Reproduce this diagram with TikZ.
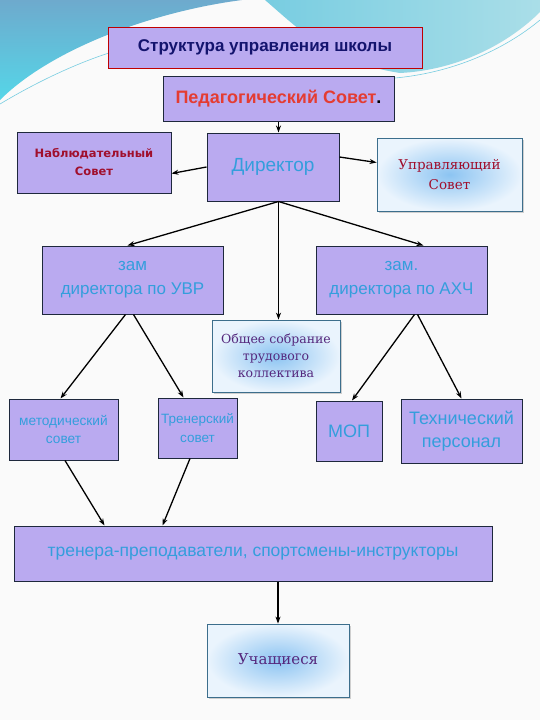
\documentclass[tikz,border=0pt]{standalone}
\usepackage{fontspec}
\setmainfont{Liberation Sans}
\newfontfamily\dvserif{DejaVu Serif}
\newfontfamily\dvsans{DejaVu Sans}
\usetikzlibrary{arrows.meta,shadows}
\definecolor{lav}{RGB}{186,170,240}
\definecolor{edge}{RGB}{30,40,60}
\definecolor{navy}{RGB}{20,20,110}
\definecolor{redt}{RGB}{228,60,50}
\definecolor{wine}{RGB}{160,15,45}
\definecolor{bluet}{RGB}{52,158,220}
\definecolor{purt}{RGB}{85,40,125}
\definecolor{glowin}{RGB}{140,196,242}
\definecolor{glowout}{RGB}{234,244,253}
\definecolor{glowedge}{RGB}{60,110,140}
\definecolor{bgc}{RGB}{250,250,250}
\definecolor{seaA}{RGB}{85,214,232}
\definecolor{seaB}{RGB}{110,170,205}
\definecolor{seaC}{RGB}{170,222,232}
\definecolor{seaD}{RGB}{120,205,225}

\begin{document}
\begin{tikzpicture}[x=1pt,y=-1pt,
  box/.style={draw=edge,fill=lav,line width=1pt,align=center,inner sep=1pt},
  glow/.style={draw=glowedge,line width=0.8pt,shading=radial,inner color=glowin,outer color=glowout,align=center,
    drop shadow={shadow xshift=1.5pt,shadow yshift=-1.5pt,opacity=0.35,fill=gray}},
  arr/.style={line width=1.3pt,-{Stealth[length=7pt,width=5pt]}}]
\useasboundingbox (0,0) rectangle (540,720);
\fill[bgc] (0,0) rectangle (540,720);
\shade[top color=seaB,bottom color=seaA] (0,0) -- (242,0) .. controls (150,12) and (50,50) .. (0,100) -- cycle;
\shade[left color=seaD,right color=seaC] (265,0) .. controls (300,30) and (330,62) .. (400,73) .. controls (460,70) and (510,42) .. (540,12) -- (540,0) -- cycle;
\draw[seaD,line width=0.6pt] (0,104) .. controls (40,80) and (80,62) .. (112,52);
\draw[seaD,line width=0.6pt] (395,78) .. controls (460,72) and (510,45) .. (540,20);

\node[box,draw=red!75!black,minimum width=314,minimum height=41,text=navy,font=\fontsize{17}{20}\selectfont\bfseries] (title) at (265,47.5) {Структура управления школы};
\node[box,minimum width=231,minimum height=45,font=\fontsize{18}{21}\selectfont\bfseries] (pedsov) at (278.5,98.5) {\textcolor{redt}{Педагогический Совет}.};
\node[box,minimum width=154,minimum height=61,text=wine,font=\dvsans\fontsize{11.5}{18}\selectfont\bfseries] (nabl) at (94,162.5) {Наблюдательный\\Совет};
\node[box,minimum width=132,minimum height=68,text=bluet,font=\fontsize{19}{22}\selectfont] (dir) at (273,167) {Директор};
\node[glow,minimum width=145,minimum height=73,text=wine,font=\dvserif\fontsize{13.5}{20}\selectfont] (upr) at (449.5,174.5) {Управляющий\\Совет};
\node[box,minimum width=181,minimum height=68,text=bluet,font=\fontsize{17}{24}\selectfont] (uvr) at (132.5,280) {зам\\директора по УВР};
\node[box,minimum width=171,minimum height=68,text=bluet,font=\fontsize{17}{24}\selectfont] (ahch) at (401.5,280) {зам.\\директора по АХЧ};
\node[glow,minimum width=128,minimum height=72,text=purt,font=\dvserif\fontsize{12.5}{17}\selectfont] (obsh) at (276,356) {Общее собрание\\трудового\\коллектива};
\node[box,minimum width=109,minimum height=61,text=bluet,font=\fontsize{13.7}{18}\selectfont] (metod) at (63.5,429.5) {методический\\совет};
\node[box,minimum width=79,minimum height=60,text=bluet,font=\fontsize{13.5}{19}\selectfont] (trener) at (197.5,428) {Тренерский\\совет};
\node[box,minimum width=66,minimum height=60,text=bluet,font=\fontsize{18}{20}\selectfont] (mop) at (349,431) {МОП};
\node[box,minimum width=121,minimum height=64,text=bluet,font=\fontsize{18}{23}\selectfont] (tech) at (461.5,431) {Технический\\персонал};
\node[box,minimum width=478,minimum height=55,text=bluet,font=\fontsize{17.5}{20}\selectfont] (staff) at (253,553.5) {тренера-преподаватели, спортсмены-инструкторы};
\node[glow,minimum width=142,minimum height=73,text=purt,font=\dvserif\fontsize{15}{18}\selectfont] (pupils) at (278,660.5) {Учащиеся};

\coordinate (hub) at (pedsov.south |- dir.south);
\draw[arr] (pedsov.south) -- (pedsov.south |- dir.north);
\draw[arr] (dir.west) -- ([yshift=-11pt]nabl.east);
\draw[arr] ([yshift=10pt]dir.east) -- ([yshift=12pt]upr.west);
\draw[arr] (hub) -- ([xshift=-5pt]uvr.north);
\draw[arr] (hub) -- ([xshift=22pt]ahch.north);
\draw[arr] (hub) -- (hub |- obsh.north);
\draw[arr] ([xshift=-7pt]uvr.south) -- ([xshift=-3pt]metod.north);
\draw[arr] ([xshift=1pt]uvr.south) -- ([xshift=-14pt]trener.north);
\draw[arr] ([xshift=13pt]ahch.south) -- ([xshift=3pt]mop.north);
\draw[arr] ([xshift=16pt]ahch.south) -- (tech.north);
\draw[arr] ([xshift=1.5pt]metod.south) -- ([xshift=91pt]staff.north west);
\draw[arr] ([xshift=-7.5pt]trener.south) -- ([xshift=149pt]staff.north west);
\draw[arr] (pupils.north |- staff.south) -- (pupils.north);
\end{tikzpicture}
\end{document}
